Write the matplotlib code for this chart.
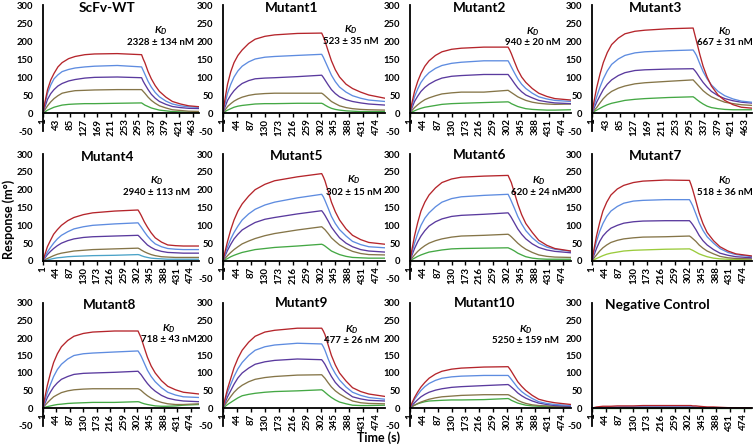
import matplotlib.pyplot as plt

plt.rcParams['font.family'] = ['Lato', 'DejaVu Sans']
plt.rcParams['font.weight'] = 'bold'
plt.rcParams['axes.unicode_minus'] = False
plt.rcParams['mathtext.fontset'] = 'custom'
plt.rcParams['mathtext.it'] = 'Lato:italic:bold'
plt.rcParams['mathtext.rm'] = 'Lato:bold'

t = [1, 7, 15, 25, 35, 47, 60, 80, 100, 130, 160, 230,
     305, 310, 315, 325, 335, 347, 360, 380, 400, 425, 450, 500]

titles = ['ScFv-WT', 'Mutant1', 'Mutant2', 'Mutant3',
          'Mutant4', 'Mutant5', 'Mutant6', 'Mutant7',
          'Mutant8', 'Mutant9', 'Mutant10', 'Negative Control']
kd_values = ['2328 ± 134 nM', '523 ± 35 nM', '940 ± 20 nM', '667 ± 31 nM',
             '2940 ± 113 nM', '302 ± 15 nM', '620 ± 24 nM', '518 ± 36 nM',
             '718 ± 43 nM', '477 ± 26 nM', '5250 ± 159 nM', None]
ticks_a = [1, 43, 85, 127, 169, 211, 253, 295, 337, 379, 421, 463]
ticks_b = [1, 44, 87, 130, 173, 216, 259, 302, 345, 388, 431, 474]

# responses (m°), five concentrations per panel, high -> low
wt = [[0, 30, 65, 92, 110, 128, 140, 151, 157, 162, 164, 165, 162, 150, 140, 115, 95, 76, 60, 44, 32, 25, 20, 16],
      [0, 25, 55, 78, 95, 106, 115, 121, 125, 128, 130, 132, 128, 118, 108, 88, 72, 57, 45, 33, 25, 20, 17, 15],
      [0, 17, 38, 54, 65, 75, 82, 89, 93, 97, 99, 100, 98, 88, 80, 65, 52, 41, 32, 24, 18, 15, 13, 12],
      [0, 9, 20, 31, 40, 48, 55, 59, 62, 63, 64, 65, 65, 60, 55, 44, 35, 27, 20, 14, 9, 7, 5, 4],
      [0, 3, 8, 12, 16, 19, 22, 24, 25, 26, 26, 27, 28, 25, 22, 18, 14, 11, 8, 6, 4, 3, 2, 2]]
m1 = [[0, 38, 80, 115, 140, 160, 175, 193, 205, 213, 217, 221, 222, 212, 200, 172, 145, 120, 100, 80, 68, 58, 50, 41],
      [0, 25, 55, 80, 100, 117, 130, 142, 150, 155, 157, 160, 163, 155, 145, 125, 105, 87, 72, 58, 48, 41, 36, 32],
      [0, 16, 35, 50, 62, 73, 82, 90, 95, 97, 98, 101, 105, 99, 92, 78, 65, 54, 45, 37, 32, 28, 25, 22],
      [0, 8, 18, 26, 33, 39, 44, 49, 52, 54, 55, 55, 55, 52, 48, 40, 32, 26, 20, 15, 12, 10, 9, 8],
      [0, 4, 8, 12, 16, 19, 21, 23, 25, 26, 26, 27, 27, 25, 22, 17, 13, 10, 8, 6, 5, 4, 4, 4]]
m2 = [[0, 28, 60, 88, 110, 130, 145, 160, 170, 177, 180, 183, 183, 175, 165, 142, 120, 100, 85, 68, 55, 46, 40, 36],
      [0, 20, 45, 67, 85, 100, 112, 124, 132, 138, 141, 145, 145, 137, 128, 111, 95, 80, 68, 55, 45, 39, 35, 32],
      [0, 14, 32, 47, 60, 71, 80, 90, 97, 102, 104, 107, 107, 101, 95, 82, 70, 59, 50, 42, 35, 31, 28, 26],
      [0, 7, 15, 23, 30, 37, 42, 48, 53, 56, 58, 58, 63, 60, 57, 51, 45, 40, 35, 30, 27, 25, 24, 25],
      [0, 3, 6, 10, 13, 16, 18, 21, 24, 26, 27, 29, 31, 29, 26, 22, 18, 15, 12, 10, 9, 8, 8, 9]]
m3 = [[0, 32, 70, 108, 140, 168, 190, 208, 220, 227, 230, 234, 236, 218, 200, 163, 130, 100, 75, 50, 35, 23, 16, 12],
      [0, 20, 45, 72, 95, 117, 135, 150, 160, 167, 170, 173, 175, 168, 160, 137, 115, 95, 78, 60, 48, 39, 33, 28],
      [0, 13, 30, 48, 65, 80, 92, 104, 112, 118, 120, 122, 123, 118, 112, 98, 85, 72, 60, 48, 40, 34, 30, 26],
      [0, 7, 15, 28, 40, 51, 60, 69, 75, 81, 84, 88, 92, 87, 82, 72, 62, 53, 45, 37, 30, 26, 23, 20],
      [0, 4, 8, 13, 18, 23, 27, 31, 35, 38, 40, 43, 45, 42, 38, 31, 25, 19, 15, 12, 10, 9, 9, 9]]
m4 = [[0, 18, 40, 58, 75, 88, 100, 113, 122, 130, 135, 140, 143, 136, 128, 110, 95, 79, 65, 53, 45, 43, 42, 42],
      [0, 11, 25, 38, 50, 62, 72, 82, 90, 96, 100, 104, 107, 101, 95, 82, 70, 58, 48, 40, 35, 33, 32, 32],
      [0, 8, 18, 27, 35, 43, 50, 57, 62, 66, 68, 70, 72, 68, 63, 54, 45, 38, 32, 27, 24, 23, 22, 22],
      [0, 3, 7, 11, 15, 19, 22, 25, 28, 30, 32, 34, 36, 34, 31, 26, 22, 18, 15, 12, 11, 10, 10, 10],
      [0, 1, 3, 5, 7, 9, 10, 12, 13, 14, 15, 16, 18, 17, 15, 12, 10, 8, 7, 6, 5, 5, 5, 5]]
m5 = [[0, 25, 55, 88, 115, 140, 160, 182, 200, 215, 225, 236, 245, 236, 225, 195, 165, 138, 115, 90, 72, 60, 52, 47],
      [0, 18, 40, 62, 80, 98, 115, 132, 145, 157, 165, 177, 187, 180, 170, 148, 125, 105, 88, 70, 55, 46, 40, 37],
      [0, 14, 30, 47, 62, 75, 87, 98, 108, 117, 122, 132, 141, 135, 128, 112, 95, 80, 65, 50, 40, 32, 28, 25],
      [0, 7, 15, 24, 32, 40, 48, 56, 63, 71, 77, 87, 96, 92, 88, 77, 65, 55, 45, 35, 27, 21, 18, 17],
      [0, 3, 7, 12, 16, 20, 24, 28, 32, 35, 38, 42, 47, 45, 42, 35, 28, 23, 18, 13, 10, 9, 8, 8]]
m6 = [[0, 32, 70, 108, 140, 165, 185, 205, 220, 230, 235, 238, 240, 230, 220, 190, 160, 130, 105, 80, 58, 44, 35, 28],
      [0, 23, 50, 77, 100, 120, 135, 152, 165, 175, 180, 184, 187, 178, 168, 147, 125, 104, 85, 65, 50, 39, 33, 27],
      [0, 16, 35, 54, 70, 85, 98, 110, 118, 125, 128, 131, 135, 129, 122, 106, 90, 75, 62, 48, 38, 31, 27, 23],
      [0, 8, 17, 27, 35, 43, 50, 57, 62, 67, 70, 72, 75, 72, 68, 59, 50, 41, 33, 24, 17, 13, 11, 10],
      [0, 4, 8, 13, 17, 21, 25, 28, 31, 34, 35, 36, 37, 35, 33, 28, 22, 17, 12, 8, 6, 5, 5, 5]]
m7 = [[0, 32, 70, 108, 140, 165, 185, 202, 212, 220, 224, 227, 226, 214, 200, 168, 135, 105, 80, 57, 40, 28, 20, 14],
      [0, 25, 55, 83, 105, 125, 140, 153, 162, 168, 170, 172, 172, 164, 155, 132, 108, 86, 68, 50, 35, 24, 18, 12],
      [0, 16, 35, 55, 70, 82, 92, 100, 106, 110, 112, 113, 113, 108, 102, 88, 72, 57, 45, 32, 22, 16, 12, 9],
      [0, 8, 17, 28, 37, 45, 52, 58, 62, 65, 67, 68, 70, 67, 63, 55, 45, 36, 28, 20, 13, 9, 7, 6],
      [0, 3, 7, 11, 15, 19, 22, 25, 28, 30, 31, 33, 34, 32, 30, 25, 20, 16, 12, 8, 6, 5, 4, 3]]
m8 = [[0, 30, 65, 100, 130, 155, 175, 193, 205, 213, 217, 220, 220, 210, 200, 172, 145, 120, 100, 78, 62, 52, 45, 40],
      [0, 20, 45, 68, 90, 110, 125, 140, 150, 155, 157, 160, 163, 156, 148, 128, 108, 90, 75, 58, 45, 37, 32, 30],
      [0, 13, 30, 46, 60, 72, 82, 90, 96, 99, 100, 102, 105, 100, 95, 82, 70, 58, 48, 36, 28, 23, 20, 18],
      [0, 7, 15, 24, 32, 38, 44, 49, 52, 54, 55, 55, 55, 53, 50, 42, 35, 28, 22, 16, 12, 10, 10, 12],
      [0, 2, 4, 6, 8, 10, 11, 13, 14, 15, 16, 16, 18, 17, 15, 12, 10, 8, 6, 5, 5, 6, 8, 10]]
m9 = [[0, 25, 55, 85, 115, 142, 165, 188, 205, 217, 222, 228, 228, 220, 210, 180, 150, 123, 100, 77, 58, 47, 40, 33],
      [0, 20, 45, 68, 90, 112, 130, 150, 165, 175, 180, 185, 183, 175, 165, 140, 118, 98, 80, 60, 45, 36, 30, 25],
      [0, 14, 32, 50, 68, 86, 100, 114, 125, 132, 136, 140, 138, 132, 125, 107, 90, 73, 60, 45, 32, 26, 22, 20],
      [0, 9, 20, 33, 45, 56, 65, 75, 82, 87, 90, 94, 95, 90, 85, 72, 60, 49, 40, 29, 20, 15, 13, 12],
      [0, 4, 10, 16, 22, 29, 35, 39, 42, 45, 47, 49, 52, 49, 45, 37, 30, 23, 17, 12, 8, 7, 7, 8]]
m10 = [[0, 14, 30, 46, 60, 73, 85, 97, 105, 111, 114, 117, 118, 112, 105, 90, 75, 62, 50, 36, 25, 19, 15, 10],
       [0, 11, 25, 38, 50, 61, 70, 79, 85, 89, 91, 93, 93, 88, 82, 70, 58, 47, 38, 27, 18, 13, 10, 7],
       [0, 7, 15, 24, 32, 39, 45, 51, 55, 59, 61, 64, 67, 64, 60, 52, 43, 35, 28, 20, 14, 10, 7, 5],
       [0, 4, 8, 13, 17, 21, 25, 29, 32, 34, 36, 38, 38, 36, 33, 28, 22, 17, 13, 9, 7, 6, 5, 4],
       [0, 4, 8, 12, 15, 18, 20, 21, 22, 23, 23, 24, 27, 25, 22, 18, 14, 11, 8, 6, 5, 4, 4, 4]]
neg = [[0, 1, 3, 4, 5, 5, 5, 6, 6, 6, 7, 7, 7, 7, 6, 6, 5, 4, 3, 3, 2, 1, 1, 0],
       [0, 0, 1, 1, 2, 2, 2, 2, 3, 3, 3, 3, 3, 3, 3, 2, 2, 2, 1, 1, 1, 0, 0, 0],
       [0, 0, 1, 1, 1, 1, 2, 2, 2, 2, 2, 2, 2, 2, 2, 2, 1, 1, 1, 1, 0, 0, 0, 0],
       [0, 0, 0, 0, 1, 1, 1, 1, 1, 1, 1, 1, 1, 1, 1, 1, 1, 1, 0, 0, 0, 0, 0, 0],
       [0, 0, 0, 0, 0, 0, 0, 0, 0, 0, 0, 0, 0, 0, 0, 0, 0, 0, 0, 0, 0, 0, 0, 0]]
panels = [wt, m1, m2, m3, m4, m5, m6, m7, m8, m9, m10, neg]

colors = ['#B5252B', '#5E8CE0', '#5A3A9E', '#857548', '#44A844']
W, H = 756, 446

fig = plt.figure(figsize=(W / 100, H / 100), dpi=100)

col_l = [43, 223, 410, 592]
col_r = [199, 385, 571, 752]
row_top = [5, 154, 303]
row_zero = [113, 261, 408]
title_xy = [(107, 8.5), (292, 8), (480, 8), (656, 8.3),
            (108, 157), (297, 156.5), (480, 155), (656, 156),
            (110, 305), (302, 303), (485, 303), (657, 305)]
kd_xy = [(160.5, 30.7, 42.3), (351, 30, 41.7), (533, 31.7, 42.3), (725, 31.7, 42.7),
         (156.5, 180.7, 192.3), (353.5, 180, 192.3), (539, 180.7, 192.3), (725, 180.7, 192.3),
         (169, 328.3, 340), (352, 329.3, 340.7), (526, 329.3, 340.7), None]


def fx(x):
    return x / W


def fy(y):
    return 1 - y / H


for i, data in enumerate(panels):
    r, c = divmod(i, 4)
    ymin = 0 if i in (4, 7) else -50
    top = row_top[r]
    zero = row_zero[r]
    bot = zero + (zero - top) / 300 * (-ymin)
    ax = fig.add_axes([fx(col_l[c]), fy(bot), (col_r[c] - col_l[c]) / W, (bot - top) / H])
    ax.patch.set_visible(False)
    for s in ('top', 'right'):
        ax.spines[s].set_visible(False)
    # spine moved first: set_position resets the ticks
    ax.spines['bottom'].set_position(('data', 0))
    ax.spines['bottom'].set_linewidth(1.3)
    ax.spines['left'].set_linewidth(1.3)

    cols = list(colors)
    if i == 4:
        cols[4] = '#4BA3C8'
    if i == 7:
        cols[4] = '#9BCB3C'
    for k in range(4, -1, -1):
        ax.plot(t, data[k], color=cols[k], lw=0.95, solid_joinstyle='round')

    ticks = ticks_a if i in (0, 3) else ticks_b
    ax.set_xlim(1, 482 if i in (0, 3) else 500)
    ax.set_ylim(ymin, 300)
    ax.set_xticks(ticks)
    ax.set_xticklabels([str(v) for v in ticks], rotation=90, fontsize=7, fontweight='bold')
    yt = list(range(ymin, 301, 50))
    ax.set_yticks(yt)
    ax.set_yticklabels([str(v) for v in yt], fontsize=6.8, fontweight='bold')
    ax.tick_params(axis='y', length=0, pad=7)
    ax.tick_params(axis='x', length=3, width=1, direction='out', pad=1)

    tx, ty = title_xy[i]
    fig.text(fx(tx), fy(ty), titles[i], ha='center', va='center', fontsize=9.8, fontweight='bold')
    if kd_values[i]:
        kx, ky1, ky2 = kd_xy[i]
        fig.text(fx(kx), fy(ky1), r'$K_D$', ha='center', va='center', fontsize=7.5)
        fig.text(fx(kx), fy(ky2), kd_values[i], ha='center', va='center', fontsize=7, fontweight='bold')

fig.text(fx(8.5), fy(219), 'Response (m°)', rotation=90, ha='center', va='center',
         fontsize=9, fontweight='bold')
fig.text(fx(379), fy(438), 'Time (s)', ha='center', va='center', fontsize=9, fontweight='bold')

fig.savefig('out.png', dpi=100)
